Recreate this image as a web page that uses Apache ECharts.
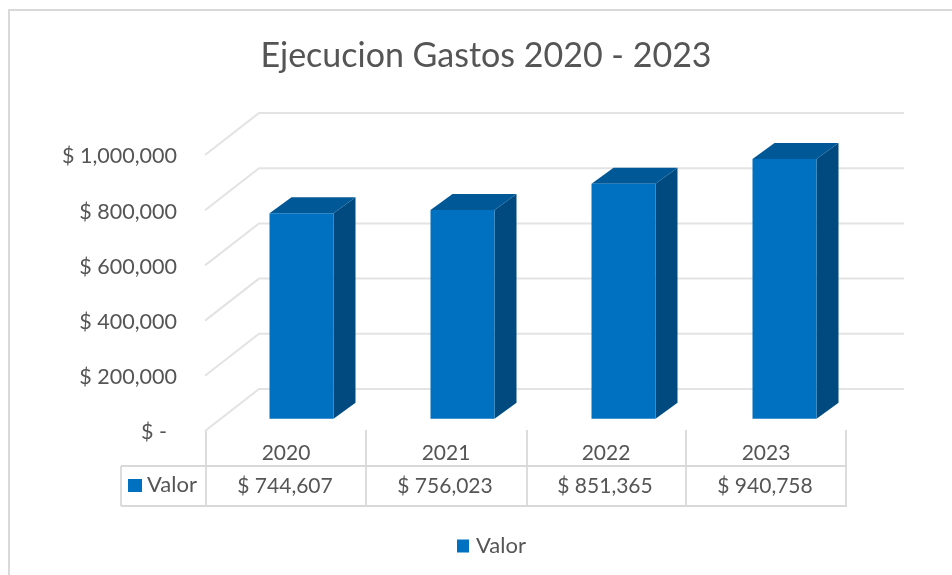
<!DOCTYPE html>
<html>
<head>
<meta charset="utf-8">
<style>
  html, body { margin: 0; padding: 0; background: #fff; }
  #chart { width: 952px; height: 575px; }
</style>
</head>
<body>
<div id="chart"></div>
<script src="https://cdn.jsdelivr.net/npm/echarts@6/dist/echarts.min.js"></script>
<script>
const years = ['2020', '2021', '2022', '2023']
const valores = [744607, 756023, 851365, 940758]
const tickValues = [0, 200000, 400000, 600000, 800000, 1000000]

const FONT = 'Lato'
const GREY = '#555555'
const LINE = '#d9d9d9'

// fake 3d: how far the back wall sits from the axis plane
const wallDx = 53
const wallDy = 42
const wallRight = 58
// bar front plane inside that depth, then bar depth itself
const barDx = 15
const barDy = 12.3
const barStretch = 161 / 160
const depthX = 22
const depthY = 16
const barShare = 0.4

const money = v => '$ ' + v.toLocaleString('en-US')

const renderGrid = (params, api) => {
  const rect = params.coordSys
  const y = api.coord([0, api.value(0)])[1]
  return {
    type: 'polyline',
    silent: true,
    shape: {
      points: [
        [rect.x - 1, y],
        [rect.x + wallDx, y - wallDy],
        [rect.x + rect.width + wallRight, y - wallDy]
      ]
    },
    style: { fill: null, stroke: '#e3e3e3', lineWidth: 2 }
  }
}

const renderBar = (params, api) => {
  const rect = params.coordSys
  const top = api.coord([api.value(0), api.value(1)])
  const base = api.coord([api.value(0), 0])
  const w = api.size([1, 0])[0] * barShare
  const cx = rect.x + (top[0] - rect.x) * barStretch + barDx
  const l = cx - w / 2
  const r = cx + w / 2
  const t = top[1] - barDy
  const b = base[1] - barDy
  return {
    type: 'group',
    children: [
      {
        type: 'polygon',
        shape: { points: [[r, t], [r + depthX, t - depthY], [r + depthX, b - depthY], [r, b]] },
        style: { fill: '#004a7f' }
      },
      {
        type: 'polygon',
        shape: { points: [[l, t], [l + depthX, t - depthY], [r + depthX, t - depthY], [r, t]] },
        style: { fill: '#005897' }
      },
      {
        type: 'rect',
        shape: { x: l, y: t, width: w, height: b - t },
        style: { fill: '#0070c0' }
      }
    ]
  }
}

const renderCell = (params, api) => {
  const c = api.coord([api.value(0), 0])
  return {
    type: 'text',
    silent: true,
    style: {
      x: c[0] - 1,
      y: 486,
      text: money(api.value(1)),
      fill: GREY,
      font: '21px ' + FONT,
      align: 'center',
      verticalAlign: 'middle'
    }
  }
}

const tableColor = { stroke: LINE, lineWidth: 1.8 }
const hLine = (x1, x2, y) => ({ type: 'line', silent: true, shape: { x1, y1: y, x2, y2: y }, style: tableColor })
const vLine = (x, y1, y2) => ({ type: 'line', silent: true, shape: { x1: x, y1, x2: x, y2 }, style: tableColor })

const chart = echarts.init(document.getElementById('chart'))
chart.setOption({
  animation: false,
  backgroundColor: '#fff',
  title: {
    text: 'Ejecucion Gastos 2020 - 2023',
    left: 481,
    top: 34,
    textAlign: 'center',
    textStyle: { color: GREY, fontFamily: FONT, fontSize: 34, fontWeight: 'normal' }
  },
  legend: {
    data: ['Valor'],
    left: 457,
    top: 535,
    padding: 0,
    icon: 'rect',
    itemWidth: 12,
    itemHeight: 13,
    textStyle: { color: GREY, fontFamily: FONT, fontSize: 22, padding: [0, 0, 0, 2] }
  },
  grid: { left: 206, top: 155, width: 640, height: 276 },
  xAxis: {
    type: 'category',
    data: years,
    axisLine: { show: false },
    axisTick: { show: false },
    axisLabel: { margin: 12, color: GREY, fontFamily: FONT, fontSize: 21 }
  },
  yAxis: {
    type: 'value',
    min: 0,
    max: 1000000,
    interval: 200000,
    axisLine: { show: false },
    axisTick: { show: false },
    splitLine: { show: false },
    axisLabel: {
      margin: 29,
      color: GREY,
      fontFamily: FONT,
      fontSize: 21.5,
      padding: [3, 0, 0, 0],
      formatter: v => (v === 0 ? '{zero|$ -}' : money(v)),
      rich: { zero: { color: GREY, fontFamily: FONT, fontSize: 21.5, padding: [0, 10, 0, 0] } }
    }
  },
  series: [
    {
      type: 'custom',
      name: 'grid',
      z: 1,
      silent: true,
      data: tickValues.map(v => [v]),
      encode: { y: 0 },
      renderItem: renderGrid
    },
    {
      type: 'custom',
      name: 'Valor',
      z: 2,
      itemStyle: { color: '#0070c0' },
      data: valores.map((v, i) => [i, v]),
      encode: { x: 0, y: 1 },
      renderItem: renderBar
    },
    {
      type: 'custom',
      name: 'table',
      z: 3,
      silent: true,
      data: valores.map((v, i) => [i, v]),
      encode: { x: 0 },
      renderItem: renderCell
    }
  ],
  graphic: [
    { type: 'polyline', silent: true, shape: { points: [[9, 575], [9, 10], [952, 10]] }, style: { fill: null, stroke: LINE, lineWidth: 2 } },
    hLine(121, 847, 466),
    hLine(121, 847, 506),
    vLine(121, 466, 506),
    vLine(206, 430, 506),
    vLine(366, 430, 506),
    vLine(527, 430, 506),
    vLine(686, 430, 506),
    vLine(846, 430, 506),
    { type: 'rect', silent: true, shape: { x: 128, y: 479, width: 14, height: 13 }, style: { fill: '#0070c0' } },
    { type: 'text', silent: true, style: { x: 147, y: 485, text: 'Valor', fill: GREY, font: '22px ' + FONT, verticalAlign: 'middle' } }
  ]
})
</script>
</body>
</html>
